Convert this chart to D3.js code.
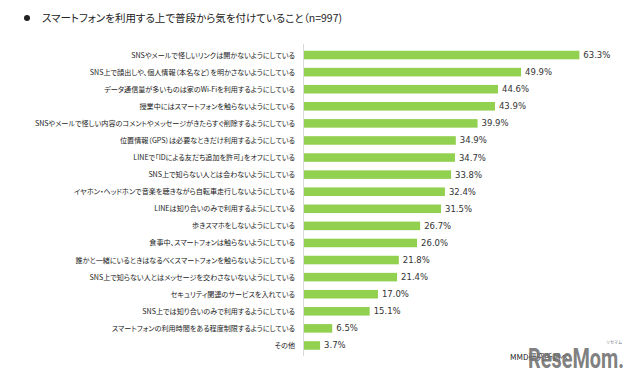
<!DOCTYPE html>
<html><head><meta charset="utf-8">
<script src="https://cdn.jsdelivr.net/npm/d3@7"></script>
<style>
body{margin:0;background:#fff;}
svg{display:block;}
.cat{font-family:"Noto Sans CJK JP",sans-serif;font-size:7.1px;fill:#222;font-feature-settings:"palt";}
.val{font-family:"DejaVu Sans",sans-serif;font-size:8.5px;fill:#333;}
.title{font-family:"Noto Sans CJK JP",sans-serif;font-size:10.5px;fill:#222;font-feature-settings:"palt";}
</style></head>
<body>
<svg id="c" width="638" height="381"></svg>
<script>
const categories = [
 "SNSやメールで怪しいリンクは開かないようにしている",
 "SNS上で顔出しや、個人情報（本名など）を明かさないようにしている",
 "データ通信量が多いものは家のWi-Fiを利用するようにしている",
 "授業中にはスマートフォンを触らないようにしている",
 "SNSやメールで怪しい内容のコメントやメッセージがきたらすぐ削除するようにしている",
 "位置情報（GPS）は必要なときだけ利用するようにしている",
 "LINEで「IDによる友だち追加を許可」をオフにしている",
 "SNS上で知らない人とは会わないようにしている",
 "イヤホン・ヘッドホンで音楽を聴きながら自転車走行しないようにしている",
 "LINEは知り合いのみで利用するようにしている",
 "歩きスマホをしないようにしている",
 "食事中、スマートフォンは触らないようにしている",
 "誰かと一緒にいるときはなるべくスマートフォンを触らないようにしている",
 "SNS上で知らない人とはメッセージを交わさないないようにしている",
 "セキュリティ関連のサービスを入れている",
 "SNS上では知り合いのみで利用するようにしている",
 "スマートフォンの利用時間をある程度制限するようにしている",
 "その他"
];
const values = [63.3,49.9,44.6,43.9,39.9,34.9,34.7,33.8,32.4,31.5,26.7,26.0,21.8,21.4,17.0,15.1,6.5,3.7];
const title = "スマートフォンを利用する上で普段から気を付けていること（n=997)";
const source = "MMD研究所調べ";

const svg = d3.select("#c");
const x = d3.scaleLinear().domain([0,70]).range([304, 304+70*4.35]);
const y = d3.scaleBand().domain(categories).range([46.5,354]).paddingInner(0.5).paddingOuter(0.25);

svg.append("circle").attr("cx",27).attr("cy",18).attr("r",3).attr("fill","#222");
svg.append("text").attr("class","title").attr("x",42).attr("y",22).text(title);

svg.append("line").attr("x1",x(0)-0.5).attr("x2",x(0)-0.5).attr("y1",44).attr("y2",356)
  .attr("stroke","#d9d9d9").attr("stroke-width",1);

svg.selectAll("rect.bar").data(values).join("rect").attr("class","bar")
  .attr("x",x(0)).attr("y",(d,i)=>y(categories[i]))
  .attr("width",d=>x(d)-x(0)).attr("height",y.bandwidth())
  .attr("fill","#92D050");

svg.selectAll("text.cat").data(categories).join("text").attr("class","cat")
  .attr("x",x(0)-9).attr("y",d=>y(d)+y.bandwidth()/2).attr("dy","0.35em")
  .attr("text-anchor","end").text(d=>d);

svg.selectAll("text.val").data(values).join("text").attr("class","val")
  .attr("x",d=>x(d)+4).attr("y",(d,i)=>y(categories[i])+y.bandwidth()/2).attr("dy","0.35em")
  .text(d=>d.toFixed(1)+"%");

svg.append("text").attr("x",510).attr("y",360)
  .style("font-family","Noto Sans CJK JP, sans-serif").style("font-size","8px").attr("fill","#222")
  .text(source);
svg.append("text").attr("x",528).attr("y",368)
  .attr("textLength",96).attr("lengthAdjust","spacingAndGlyphs")
  .style("font-family","Roboto, sans-serif").style("font-size","28px").style("font-weight","bold")
  .attr("fill","#707070").attr("fill-opacity",0.9).text("ReseMom.");
svg.append("text").attr("x",606).attr("y",344)
  .style("font-family","Noto Sans CJK JP, sans-serif").style("font-size","4px").attr("fill","#777").text("リセマム");
</script>
</body></html>
